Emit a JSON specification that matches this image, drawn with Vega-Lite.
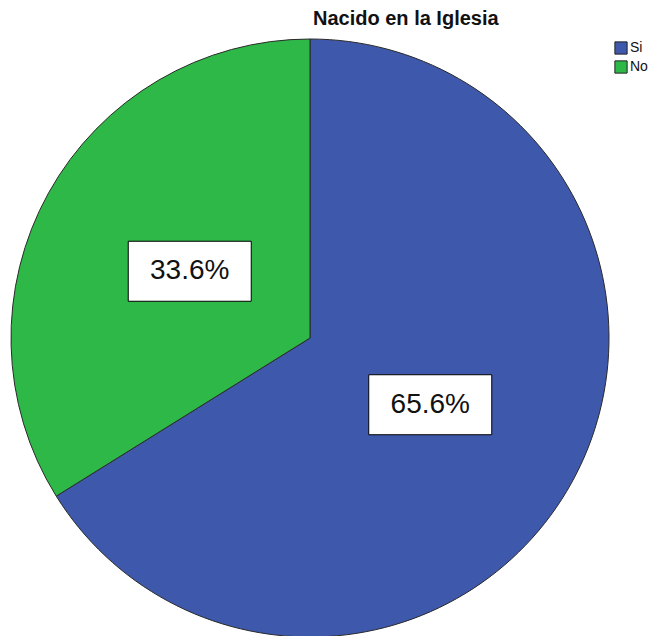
{
  "$schema": "https://vega.github.io/schema/vega-lite/v6.json",
  "width": 620,
  "height": 600,
  "autosize": "none",
  "padding": {"left": 0, "top": 38, "right": 30, "bottom": 0},
  "background": "white",
  "config": {"view": {"stroke": null}},
  "title": {
    "text": "Nacido en la Iglesia",
    "font": "Liberation Sans",
    "fontSize": 20,
    "fontWeight": "bold",
    "color": "#111111",
    "anchor": "start",
    "frame": "group",
    "dx": 313,
    "offset": 8
  },
  "data": {
    "values": [
      {"categoria": "Si", "porcentaje": 65.6},
      {"categoria": "No", "porcentaje": 33.6}
    ]
  },
  "transform": [
    {"window": [{"op": "row_number", "as": "orden"}]},
    {"joinaggregate": [{"op": "sum", "field": "porcentaje", "as": "total"}]},
    {"window": [{"op": "sum", "field": "porcentaje", "as": "acum"}], "sort": [{"field": "orden"}], "frame": [null, 0]},
    {"calculate": "2*PI*(datum.acum - datum.porcentaje/2)/datum.total", "as": "angulo"},
    {"calculate": "0.46*sin(datum.angulo)", "as": "lx"},
    {"calculate": "0.46*cos(datum.angulo)", "as": "ly"},
    {"calculate": "format(datum.porcentaje/100, '.1%')", "as": "etiqueta"}
  ],
  "layer": [
    {
      "mark": {"type": "arc", "outerRadius": 299, "stroke": "#2a2a2a", "strokeWidth": 1},
      "encoding": {
        "theta": {"field": "porcentaje", "type": "quantitative", "stack": true},
        "order": {"field": "orden", "type": "quantitative"},
        "color": {
          "field": "categoria",
          "type": "nominal",
          "scale": {"domain": ["Si", "No"], "range": ["#3E58AC", "#2EB848"]},
          "legend": {
            "orient": "none",
            "legendX": 614,
            "legendY": 3,
            "title": null,
            "padding": 0,
            "rowPadding": 1,
            "symbolType": "square",
            "symbolSize": 150,
            "symbolStrokeColor": "#222222",
            "symbolStrokeWidth": 1,
            "labelFont": "Liberation Sans",
            "labelFontSize": 14,
            "labelColor": "#111111",
            "labelOffset": 2
          }
        }
      }
    },
    {
      "mark": {
        "type": "point",
        "shape": "M-1,-0.4878L1,-0.4878L1,0.4878L-1,0.4878Z",
        "size": 15129,
        "filled": true,
        "fill": "white",
        "stroke": "black",
        "strokeWidth": 1,
        "opacity": 1
      },
      "encoding": {
        "x": {"field": "lx", "type": "quantitative", "scale": {"domain": [-1.0368, 1.0368], "nice": false, "zero": false}, "axis": null},
        "y": {"field": "ly", "type": "quantitative", "scale": {"domain": [-1.00334, 1.00334], "nice": false, "zero": false}, "axis": null}
      }
    },
    {
      "mark": {"type": "text", "font": "Liberation Sans", "fontSize": 28, "color": "#111111", "align": "center", "baseline": "middle"},
      "encoding": {
        "x": {"field": "lx", "type": "quantitative"},
        "y": {"field": "ly", "type": "quantitative"},
        "text": {"field": "etiqueta"}
      }
    }
  ]
}
